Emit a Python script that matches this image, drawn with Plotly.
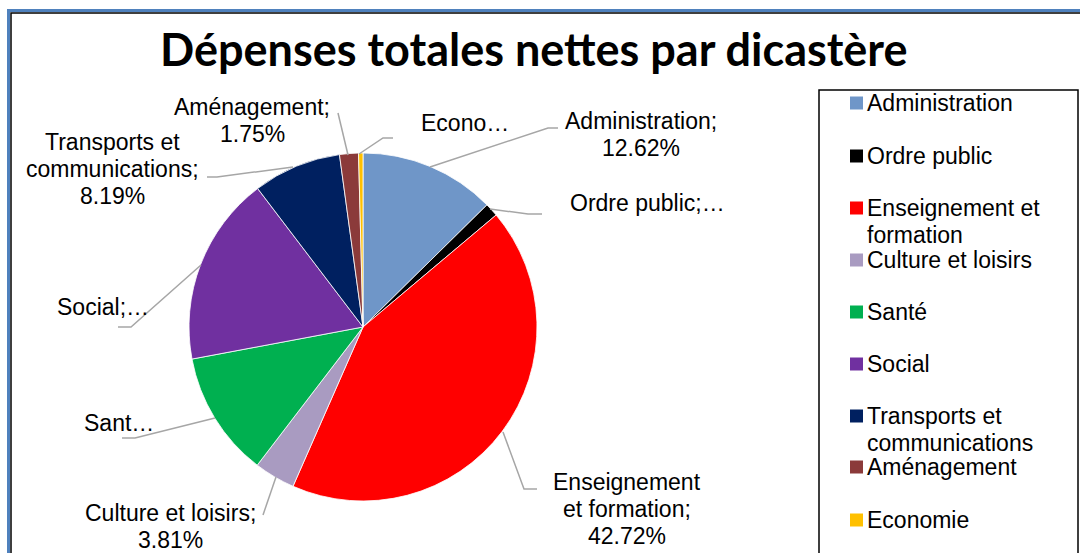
import plotly.graph_objects as go

# ---- data ----
categories = ["Administration", "Ordre public", "Enseignement et formation",
              "Culture et loisirs", "Santé", "Social",
              "Transports et communications", "Aménagement", "Economie"]
values = [12.62, 1.25, 42.72, 3.81, 11.65, 17.60, 8.19, 1.75, 0.41]
colors = ["#6F96C8", "#000000", "#FF0000", "#A99BC1", "#00B050",
          "#7030A0", "#002060", "#8B3A3A", "#FFC000"]
# data labels as shown (some truncated in the original)
slice_labels = [
    ["Administration;", "12.62%"],
    ["Ordre public;…"],
    ["Enseignement", "et formation;", "42.72%"],
    ["Culture et loisirs;", "3.81%"],
    ["Sant…"],
    ["Social;…"],
    ["Transports et", "communications;", "8.19%"],
    ["Aménagement;", "1.75%"],
    ["Econo…"],
]
legend_labels = [["Administration"], ["Ordre public"], ["Enseignement et", "formation"],
                 ["Culture et loisirs"], ["Santé"], ["Social"],
                 ["Transports et", "communications"], ["Aménagement"], ["Economie"]]
title = "Dépenses totales nettes par dicastère"

# ---- layout constants (pixels) ----
W, H = 1080, 553
CX, CY, R = 363, 327, 174
FONT = "Liberation Sans, Arial, sans-serif"
FS = 23
LH = 27

# label placement: (center x, first line y), leader path points
label_pos = [
    (641, 121), (647, 203), (627, 482), (170, 513), (119, 423),
    (103, 307), (112, 142), (252, 107), (465, 123)
]
leaders = [
    [(558, 128), (548, 128), (430, 167)],
    [(542, 214), (528, 214), (490, 209)],
    [(537, 489), (524, 489), (503, 432)],
    [(263, 515), (276, 477)],
    [(122, 438), (135, 438), (215, 418)],
    [(118, 327), (131, 327), (201, 265)],
    [(207, 177), (217, 177), (293, 167)],
    [(338, 113), (348, 155)],
    [(393, 138), (383, 138), (359, 154)],
]

fig = go.Figure()
fig.add_trace(go.Pie(
    labels=categories, values=values, sort=False, direction="clockwise",
    rotation=0, textinfo="none", showlegend=False,
    marker=dict(colors=colors, line=dict(color="white", width=0.8)),
    domain=dict(x=[(CX - R) / W, (CX + R) / W],
                y=[(H - CY - R) / H, (H - CY + R) / H]),
))

annotations = []
shapes = []

# title
annotations.append(dict(x=534, y=49, xref="x", yref="y", text="<b>" + title + "</b>",
                        showarrow=False, xanchor="center", yanchor="middle",
                        font=dict(family="Lato, Carlito, Calibri, sans-serif", size=45, color="black")))

# slice labels + leader lines
for lines, (lx, ly), pts in zip(slice_labels, label_pos, leaders):
    for i, t in enumerate(lines):
        annotations.append(dict(x=lx, y=ly + i * LH, xref="x", yref="y", text=t,
                                showarrow=False, xanchor="center", yanchor="middle",
                                font=dict(family=FONT, size=FS, color="black")))
    path = "M " + " L ".join(f"{x},{y}" for x, y in pts)
    shapes.append(dict(type="path", path=path, xref="x", yref="y",
                       line=dict(color="#A6A6A6", width=1.5)))

# legend box
shapes.append(dict(type="rect", x0=819, y0=90, x1=1078, y1=600, xref="x", yref="y",
                   line=dict(color="black", width=1.5), fillcolor="rgba(0,0,0,0)"))
legend_y = [103, 156, 208, 260, 312, 364, 416, 467, 520]
for lines, c, y in zip(legend_labels, colors, legend_y):
    shapes.append(dict(type="rect", x0=850, x1=863, y0=y - 6.5, y1=y + 6.5, xref="x", yref="y",
                       line=dict(width=0), fillcolor=c))
    for i, t in enumerate(lines):
        annotations.append(dict(x=865, y=y + i * 27, xref="x", yref="y", text=t,
                                showarrow=False, xanchor="left", yanchor="middle",
                                font=dict(family=FONT, size=FS, color="black")))

# chart border
shapes.append(dict(type="rect", x0=8.5, y0=10.5, x1=1200, y1=700, xref="x", yref="y",
                   line=dict(color="#4F81BD", width=3)))
shapes.append(dict(type="rect", x0=11, y0=13, x1=1200, y1=700, xref="x", yref="y",
                   line=dict(color="black", width=1.5)))

fig.update_layout(
    width=W, height=H, margin=dict(l=0, r=0, t=0, b=0),
    paper_bgcolor="white", plot_bgcolor="rgba(0,0,0,0)",
    xaxis=dict(range=[0, W], visible=False, fixedrange=True),
    yaxis=dict(range=[H, 0], visible=False, fixedrange=True),
    annotations=annotations, shapes=shapes, showlegend=False,
)
fig.write_html("out.html", config={"displayModeBar": False},
               post_script="document.body.style.margin='0';document.body.style.overflow='hidden';")
